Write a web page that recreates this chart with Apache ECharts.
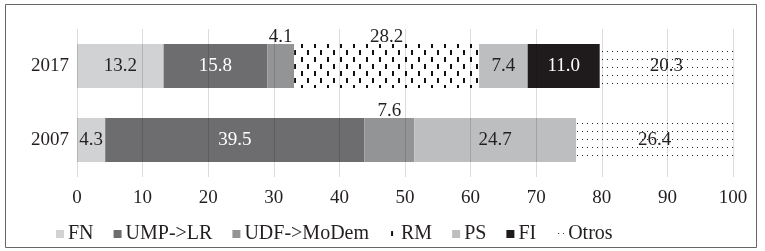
<!DOCTYPE html>
<html>
<head>
<meta charset="utf-8">
<script src="https://cdn.jsdelivr.net/npm/echarts@6/dist/echarts.min.js"></script>
<style>
html,body{margin:0;padding:0;background:#fff;}
#chart{width:765px;height:251px;}
</style>
</head>
<body>
<div id="chart"></div>
<script>
// datos
var years = ['2017', '2007'];
var partidos = ['FN', 'UMP->LR', 'UDF->MoDem', 'RM', 'PS', 'FI', 'Otros'];
var valFN = [13.2, 4.3];
var valUMP = [15.8, 39.5];
var valUDF = [4.1, 7.6];
var valRM = [28.2, 0];
var valPS = [7.4, 24.7];
var valFI = [11.0, 0];
var valOtros = [20.3, 26.4];
var xTicks = [0, 10, 20, 30, 40, 50, 60, 70, 80, 90, 100];

var fuente = '"Liberation Serif", "DejaVu Serif", serif';

// tramas para RM y Otros
function tramaRM() {
    var c = document.createElement('canvas');
    c.width = 13; c.height = 14;
    var ctx = c.getContext('2d');
    ctx.fillStyle = '#fff';
    ctx.fillRect(0, 0, 13, 14);
    ctx.fillStyle = '#111';
    ctx.fillRect(2, 1, 2, 5);
    ctx.fillRect(8, 8, 2, 5);
    return c;
}
function tramaOtros() {
    var c = document.createElement('canvas');
    c.width = 5; c.height = 8;
    var ctx = c.getContext('2d');
    ctx.fillStyle = '#fff';
    ctx.fillRect(0, 0, 5, 8);
    ctx.fillStyle = '#222';
    ctx.fillRect(2, 3, 1, 1);
    return c;
}

var colores = {
    'FN': '#d1d2d4',
    'UMP->LR': '#6d6d6f',
    'UDF->MoDem': '#939496',
    'RM': {image: tramaRM(), repeat: 'repeat'},
    'PS': '#bdbebf',
    'FI': '#1f1b1c',
    'Otros': {image: tramaOtros(), repeat: 'repeat'}
};

function etiqueta(v) {
    return v.value ? v.value.toFixed(1) : '';
}

function serie(nombre, datos, colorTxt, pos) {
    return {
        name: nombre,
        type: 'bar',
        stack: 'total',
        barWidth: 44,
        data: datos,
        itemStyle: {color: colores[nombre]},
        label: {
            show: true,
            position: pos || 'inside',
            distance: -3,
            formatter: etiqueta,
            color: colorTxt,
            fontFamily: fuente,
            fontSize: 19
        }
    };
}

var myChart = echarts.init(document.getElementById('chart'));
var option = {
    animation: false,
    grid: {left: 77, right: 32, top: 29, bottom: 74},
    legend: {
        left: 51,
        top: 219,
        itemWidth: 8,
        itemHeight: 8,
        itemGap: 20,
        icon: 'rect',
        data: partidos,
        textStyle: {fontFamily: fuente, fontSize: 20, color: '#231f20', padding: [0, 0, 0, -1]}
    },
    xAxis: {
        type: 'value',
        min: 0,
        max: 100,
        interval: 10,
        z: 5,
        axisLine: {show: false},
        axisTick: {show: false},
        splitLine: {lineStyle: {color: 'rgba(0,0,0,0.14)', width: 1}},
        axisLabel: {
            margin: 12,
            fontFamily: fuente,
            fontSize: 19,
            color: '#231f20',
            formatter: function (v) { return xTicks.indexOf(v) >= 0 ? v : ''; }
        }
    },
    yAxis: {
        type: 'category',
        data: years,
        inverse: true,
        axisLine: {show: false},
        axisTick: {show: false},
        axisLabel: {margin: 8, fontFamily: fuente, fontSize: 19, color: '#231f20'}
    },
    graphic: [{
        type: 'rect',
        shape: {x: 5.5, y: 4.5, width: 751, height: 243},
        style: {fill: 'none', stroke: '#666', lineWidth: 1},
        silent: true
    }],
    series: [
        serie('FN', valFN, '#231f20'),
        serie('UMP->LR', valUMP, '#fff'),
        serie('UDF->MoDem', valUDF, '#231f20', 'top'),
        serie('RM', valRM, '#231f20', 'top'),
        serie('PS', valPS, '#231f20'),
        serie('FI', valFI, '#fff'),
        serie('Otros', valOtros, '#231f20')
    ]
};
myChart.setOption(option);
</script>
</body>
</html>
